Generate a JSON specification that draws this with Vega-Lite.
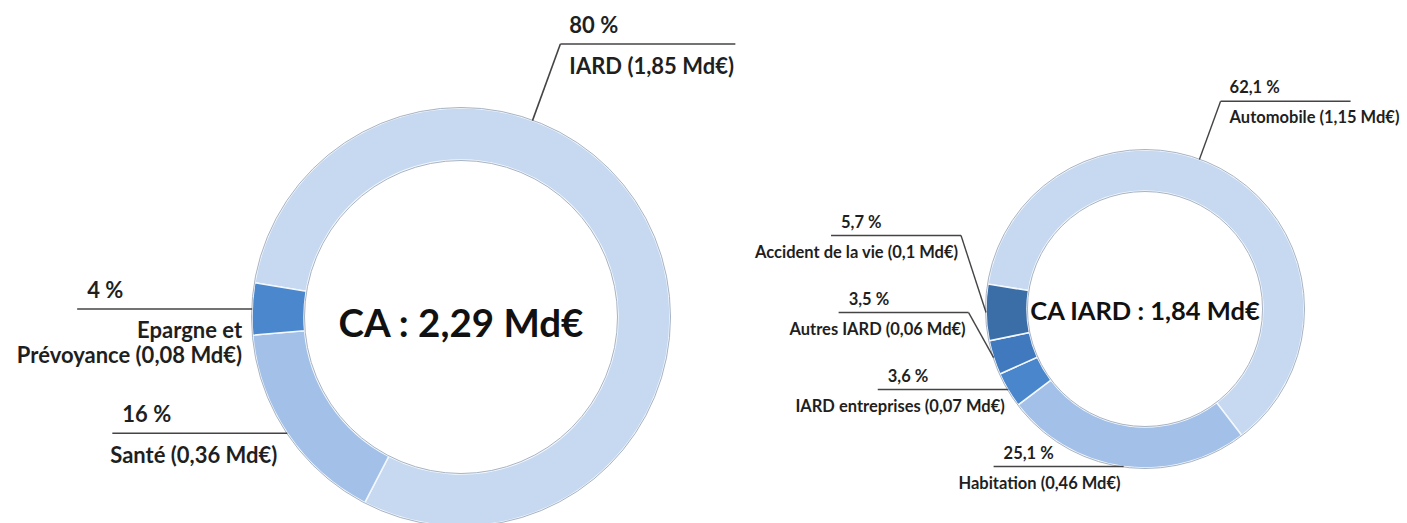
{
  "$schema": "https://vega.github.io/schema/vega-lite/v6.json",
  "background": "#ffffff",
  "padding": 0,
  "spacing": 0,
  "bounds": "flush",
  "config": {"view": {"stroke": null}},
  "resolve": {"scale": {"color": "independent", "theta": "independent"}},
  "hconcat": [
    {
      "width": 760,
      "height": 523,
      "data": {
        "values": [
          {"rank": 1, "name": "IARD", "share": 80, "amount": 1.85},
          {"rank": 2, "name": "Santé", "share": 16, "amount": 0.36},
          {"rank": 3, "name": "Epargne et\nPrévoyance", "share": 4, "amount": 0.08}
        ]
      },
      "transform": [
        {"window": [{"op": "sum", "field": "share", "as": "cum"}], "sort": [{"field": "rank"}], "frame": [null, 0]},
        {"calculate": "(279.4 + 3.6 * (datum.cum - datum.share / 2)) % 360", "as": "midDeg"},
        {"calculate": "datum.midDeg < 180 ? 'right' : 'left'", "as": "side"},
        {"calculate": "datum.side === 'right' ? min(datum.midDeg, 20) : datum.midDeg", "as": "anchorDeg"},
        {"calculate": "209 * sin(datum.anchorDeg * PI / 180)", "as": "px"},
        {"calculate": "209 * cos(datum.anchorDeg * PI / 180)", "as": "py"},
        {"window": [{"op": "row_number", "as": "fromBottom"}], "groupby": ["side"], "sort": [{"field": "anchorDeg"}]},
        {"calculate": "datum.py - (datum.fromBottom - 1) * 100", "as": "v"},
        {"window": [{"op": "max", "field": "v", "as": "vMax"}], "groupby": ["side"], "sort": [{"field": "anchorDeg"}], "frame": [null, 0]},
        {"calculate": "datum.side === 'left' ? datum.vMax + (datum.fromBottom - 1) * 100 : 1.39 * datum.py", "as": "yLine"},
        {"calculate": "datum.side === 'left' ? datum.px - min(25, abs(datum.yLine - datum.py)) : 1.39 * datum.px", "as": "xElbow"},
        {"calculate": "datum.side === 'left' ? datum.xElbow - 175 : datum.xElbow + 175", "as": "xEnd"},
        {"calculate": "datum.side === 'left' ? datum.xEnd + 10 : datum.xElbow + 9", "as": "xPct"},
        {"calculate": "datum.side === 'left' ? datum.xElbow - 10 : datum.xElbow + 9", "as": "xName"},
        {"calculate": "replace(toString(datum.share), '.', ',') + ' %'", "as": "pctText"},
        {"calculate": "datum.name + ' (' + replace(toString(datum.amount), '.', ',') + ' Md€)'", "as": "nameText"}
      ],
      "layer": [
        {
          "mark": {"type": "arc", "radius": 209, "radius2": 157, "stroke": "#f4f8fd", "strokeWidth": 1.5},
          "encoding": {
            "x": {"datum": 0, "type": "quantitative", "scale": {"domain": [-461, 299], "nice": false, "zero": false}, "axis": null},
            "y": {"datum": 0, "type": "quantitative", "scale": {"domain": [-206, 317], "nice": false, "zero": false}, "axis": null},
            "theta": {"field": "share", "type": "quantitative", "stack": true, "scale": {"range": [4.8765, 11.1597]}},
            "order": {"field": "rank", "type": "quantitative"},
            "color": {
              "field": "name", "type": "nominal", "legend": null,
              "scale": {"domain": ["IARD", "Santé", "Epargne et\nPrévoyance"], "range": ["#c6d9f1", "#a3c1e8", "#4a87cd"]}
            }
          }
        },
        {
          "transform": [{"aggregate": [{"op": "count", "as": "n"}]}],
          "mark": {"type": "arc", "radius": 209.5, "radius2": 156.5, "theta": 0, "theta2": 6.2832, "fill": "transparent", "stroke": "#a8b4c4", "strokeWidth": 1},
          "encoding": {
            "x": {"datum": 0, "type": "quantitative", "scale": {"domain": [-461, 299], "nice": false, "zero": false}, "axis": null},
            "y": {"datum": 0, "type": "quantitative", "scale": {"domain": [-206, 317], "nice": false, "zero": false}, "axis": null}
          }
        },
        {
          "mark": {"type": "rule", "stroke": "#444444", "strokeWidth": 1.6},
          "encoding": {
            "x": {"field": "px", "type": "quantitative", "scale": {"domain": [-461, 299], "nice": false, "zero": false}, "axis": null},
            "y": {"field": "py", "type": "quantitative", "scale": {"domain": [-206, 317], "nice": false, "zero": false}, "axis": null},
            "x2": {"field": "xElbow"},
            "y2": {"field": "yLine"}
          }
        },
        {
          "mark": {"type": "rule", "stroke": "#444444", "strokeWidth": 1.6},
          "encoding": {
            "x": {"field": "xElbow", "type": "quantitative", "scale": {"domain": [-461, 299], "nice": false, "zero": false}, "axis": null},
            "x2": {"field": "xEnd"},
            "y": {"field": "yLine", "type": "quantitative", "scale": {"domain": [-206, 317], "nice": false, "zero": false}, "axis": null}
          }
        },
        {
          "mark": {"type": "text", "align": "left", "baseline": "middle", "dy": -18, "font": "Lato", "fontWeight": "bold", "fontSize": 22, "color": "#1f1f1f"},
          "encoding": {
            "x": {"field": "xPct", "type": "quantitative", "scale": {"domain": [-461, 299], "nice": false, "zero": false}, "axis": null},
            "y": {"field": "yLine", "type": "quantitative", "scale": {"domain": [-206, 317], "nice": false, "zero": false}, "axis": null},
            "text": {"field": "pctText"}
          }
        },
        {
          "transform": [{"filter": "datum.side === 'left'"}],
          "mark": {"type": "text", "align": "right", "baseline": "top", "dy": 12.5, "lineBreak": "\n", "lineHeight": 25, "font": "Lato", "fontWeight": "bold", "fontSize": 22, "color": "#1f1f1f"},
          "encoding": {
            "x": {"field": "xName", "type": "quantitative", "scale": {"domain": [-461, 299], "nice": false, "zero": false}, "axis": null},
            "y": {"field": "yLine", "type": "quantitative", "scale": {"domain": [-206, 317], "nice": false, "zero": false}, "axis": null},
            "text": {"field": "nameText"}
          }
        },
        {
          "transform": [{"filter": "datum.side === 'right'"}],
          "mark": {"type": "text", "align": "left", "baseline": "top", "dy": 12.5, "lineBreak": "\n", "lineHeight": 25, "font": "Lato", "fontWeight": "bold", "fontSize": 22, "color": "#1f1f1f"},
          "encoding": {
            "x": {"field": "xName", "type": "quantitative", "scale": {"domain": [-461, 299], "nice": false, "zero": false}, "axis": null},
            "y": {"field": "yLine", "type": "quantitative", "scale": {"domain": [-206, 317], "nice": false, "zero": false}, "axis": null},
            "text": {"field": "nameText"}
          }
        },
        {
          "transform": [
            {"aggregate": [{"op": "sum", "field": "amount", "as": "total"}]},
            {"calculate": "'CA : ' + replace(format(datum.total, '.2f'), '.', ',') + ' Md€'", "as": "centerText"}
          ],
          "mark": {"type": "text", "align": "center", "baseline": "middle", "dy": 8, "font": "Lato", "fontWeight": "bold", "fontSize": 38.5, "color": "#111111"},
          "encoding": {
            "x": {"datum": 0, "type": "quantitative", "scale": {"domain": [-461, 299], "nice": false, "zero": false}, "axis": null},
            "y": {"datum": 0, "type": "quantitative", "scale": {"domain": [-206, 317], "nice": false, "zero": false}, "axis": null},
            "text": {"field": "centerText"}
          }
        }
      ]
    },
    {
      "width": 647,
      "height": 523,
      "data": {
        "values": [
          {"rank": 1, "name": "Automobile", "share": 62.1, "amount": 1.15},
          {"rank": 2, "name": "Habitation", "share": 25.1, "amount": 0.46},
          {"rank": 3, "name": "IARD entreprises", "share": 3.6, "amount": 0.07},
          {"rank": 4, "name": "Autres IARD", "share": 3.5, "amount": 0.06},
          {"rank": 5, "name": "Accident de la vie", "share": 5.7, "amount": 0.1}
        ]
      },
      "transform": [
        {"window": [{"op": "sum", "field": "share", "as": "cum"}], "sort": [{"field": "rank"}], "frame": [null, 0]},
        {"calculate": "(279 + 3.6 * (datum.cum - datum.share / 2)) % 360", "as": "midDeg"},
        {"calculate": "datum.midDeg < 180 ? 'right' : 'left'", "as": "side"},
        {"calculate": "datum.side === 'right' ? min(datum.midDeg, 20) : datum.midDeg", "as": "anchorDeg"},
        {"calculate": "159 * sin(datum.anchorDeg * PI / 180)", "as": "px"},
        {"calculate": "159 * cos(datum.anchorDeg * PI / 180)", "as": "py"},
        {"window": [{"op": "row_number", "as": "fromBottom"}], "groupby": ["side"], "sort": [{"field": "anchorDeg"}]},
        {"calculate": "datum.py - (datum.fromBottom - 1) * 77", "as": "v"},
        {"window": [{"op": "max", "field": "v", "as": "vMax"}], "groupby": ["side"], "sort": [{"field": "anchorDeg"}], "frame": [null, 0]},
        {"calculate": "datum.side === 'left' ? datum.vMax + (datum.fromBottom - 1) * 77 : 1.39 * datum.py", "as": "yLine"},
        {"calculate": "datum.side === 'left' ? datum.px - min(25, abs(datum.yLine - datum.py)) : 1.39 * datum.px", "as": "xElbow"},
        {"calculate": "datum.side === 'left' ? datum.xElbow - 130 : datum.xElbow + 130", "as": "xEnd"},
        {"calculate": "datum.side === 'left' ? datum.xEnd + 10 : datum.xElbow + 9", "as": "xPct"},
        {"calculate": "datum.side === 'left' ? datum.xElbow - 3 : datum.xElbow + 9", "as": "xName"},
        {"calculate": "replace(toString(datum.share), '.', ',') + ' %'", "as": "pctText"},
        {"calculate": "datum.name + ' (' + replace(toString(datum.amount), '.', ',') + ' Md€)'", "as": "nameText"}
      ],
      "layer": [
        {
          "mark": {"type": "arc", "radius": 159, "radius2": 118, "stroke": "#f4f8fd", "strokeWidth": 1.5},
          "encoding": {
            "x": {"datum": 0, "type": "quantitative", "scale": {"domain": [-385, 262], "nice": false, "zero": false}, "axis": null},
            "y": {"datum": 0, "type": "quantitative", "scale": {"domain": [-214, 309], "nice": false, "zero": false}, "axis": null},
            "theta": {"field": "share", "type": "quantitative", "stack": true, "scale": {"range": [4.8695, 11.1527]}},
            "order": {"field": "rank", "type": "quantitative"},
            "color": {
              "field": "name", "type": "nominal", "legend": null,
              "scale": {
                "domain": ["Automobile", "Habitation", "IARD entreprises", "Autres IARD", "Accident de la vie"],
                "range": ["#c6d9f1", "#a3c1e8", "#4a86cb", "#4079bd", "#3b6ea7"]
              }
            }
          }
        },
        {
          "transform": [{"aggregate": [{"op": "count", "as": "n"}]}],
          "mark": {"type": "arc", "radius": 159.5, "radius2": 117.5, "theta": 0, "theta2": 6.2832, "fill": "transparent", "stroke": "#a8b4c4", "strokeWidth": 1},
          "encoding": {
            "x": {"datum": 0, "type": "quantitative", "scale": {"domain": [-385, 262], "nice": false, "zero": false}, "axis": null},
            "y": {"datum": 0, "type": "quantitative", "scale": {"domain": [-214, 309], "nice": false, "zero": false}, "axis": null}
          }
        },
        {
          "mark": {"type": "rule", "stroke": "#444444", "strokeWidth": 1.4},
          "encoding": {
            "x": {"field": "px", "type": "quantitative", "scale": {"domain": [-385, 262], "nice": false, "zero": false}, "axis": null},
            "y": {"field": "py", "type": "quantitative", "scale": {"domain": [-214, 309], "nice": false, "zero": false}, "axis": null},
            "x2": {"field": "xElbow"},
            "y2": {"field": "yLine"}
          }
        },
        {
          "mark": {"type": "rule", "stroke": "#444444", "strokeWidth": 1.4},
          "encoding": {
            "x": {"field": "xElbow", "type": "quantitative", "scale": {"domain": [-385, 262], "nice": false, "zero": false}, "axis": null},
            "x2": {"field": "xEnd"},
            "y": {"field": "yLine", "type": "quantitative", "scale": {"domain": [-214, 309], "nice": false, "zero": false}, "axis": null}
          }
        },
        {
          "mark": {"type": "text", "align": "left", "baseline": "middle", "dy": -13, "font": "Lato", "fontWeight": "bold", "fontSize": 16.5, "color": "#1f1f1f"},
          "encoding": {
            "x": {"field": "xPct", "type": "quantitative", "scale": {"domain": [-385, 262], "nice": false, "zero": false}, "axis": null},
            "y": {"field": "yLine", "type": "quantitative", "scale": {"domain": [-214, 309], "nice": false, "zero": false}, "axis": null},
            "text": {"field": "pctText"}
          }
        },
        {
          "transform": [{"filter": "datum.side === 'left'"}],
          "mark": {"type": "text", "align": "right", "baseline": "top", "dy": 9, "lineBreak": "\n", "lineHeight": 19, "font": "Lato", "fontWeight": "bold", "fontSize": 16.5, "color": "#1f1f1f"},
          "encoding": {
            "x": {"field": "xName", "type": "quantitative", "scale": {"domain": [-385, 262], "nice": false, "zero": false}, "axis": null},
            "y": {"field": "yLine", "type": "quantitative", "scale": {"domain": [-214, 309], "nice": false, "zero": false}, "axis": null},
            "text": {"field": "nameText"}
          }
        },
        {
          "transform": [{"filter": "datum.side === 'right'"}],
          "mark": {"type": "text", "align": "left", "baseline": "top", "dy": 9, "lineBreak": "\n", "lineHeight": 19, "font": "Lato", "fontWeight": "bold", "fontSize": 16.5, "color": "#1f1f1f"},
          "encoding": {
            "x": {"field": "xName", "type": "quantitative", "scale": {"domain": [-385, 262], "nice": false, "zero": false}, "axis": null},
            "y": {"field": "yLine", "type": "quantitative", "scale": {"domain": [-214, 309], "nice": false, "zero": false}, "axis": null},
            "text": {"field": "nameText"}
          }
        },
        {
          "transform": [
            {"aggregate": [{"op": "sum", "field": "amount", "as": "total"}]},
            {"calculate": "'CA IARD : ' + replace(format(datum.total, '.2f'), '.', ',') + ' Md€'", "as": "centerText"}
          ],
          "mark": {"type": "text", "align": "center", "baseline": "middle", "dy": 2.5, "font": "Lato", "fontWeight": "bold", "fontSize": 25.5, "color": "#111111"},
          "encoding": {
            "x": {"datum": 0, "type": "quantitative", "scale": {"domain": [-385, 262], "nice": false, "zero": false}, "axis": null},
            "y": {"datum": 0, "type": "quantitative", "scale": {"domain": [-214, 309], "nice": false, "zero": false}, "axis": null},
            "text": {"field": "centerText"}
          }
        }
      ]
    }
  ]
}
